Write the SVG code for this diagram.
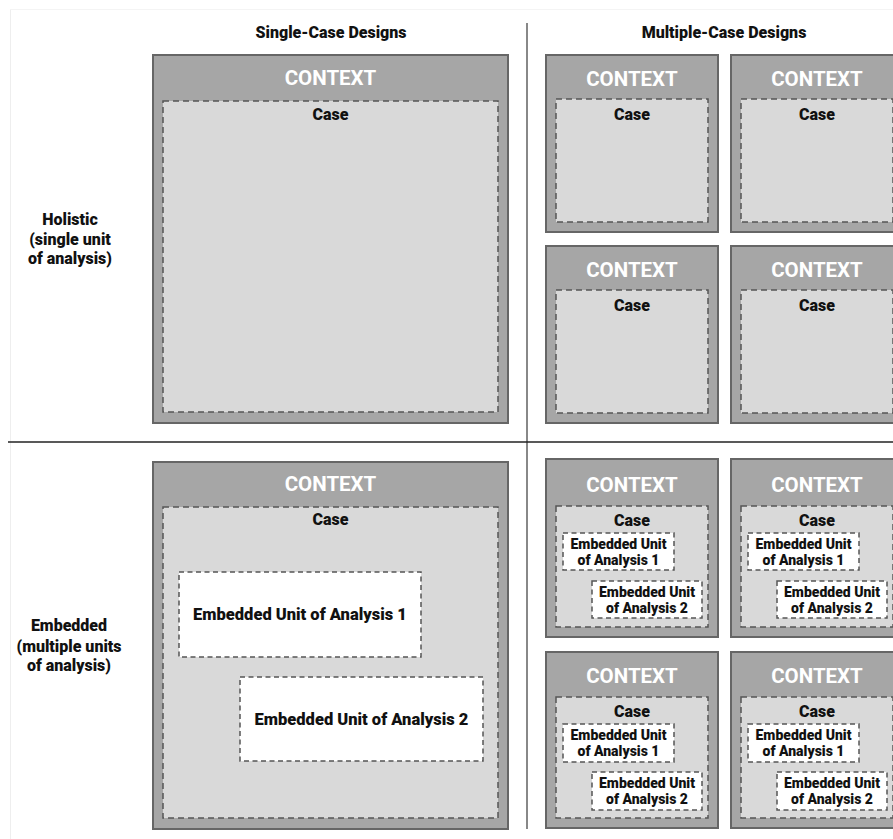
<svg xmlns="http://www.w3.org/2000/svg" width="893" height="839" viewBox="0 0 893 839">
  <style>
    text { font-family: Roboto, "Liberation Sans", Arial, sans-serif; font-weight: 900; text-anchor: middle; }
    .ctx { fill: #a6a6a6; stroke: #666666; stroke-width: 2; }
    .case { fill: #d9d9d9; stroke: #555555; stroke-width: 1.5; stroke-dasharray: 6 4; }
    .unit { fill: #ffffff; stroke: #555555; stroke-width: 1.5; stroke-dasharray: 5 3.5; }
    .ctx-t { fill: #ffffff; font-size: 20.5px; font-weight: bold; }
    .case-t { fill: #111111; font-size: 16px; }
    .hdr { fill: #111111; font-size: 16px; }
    .row { fill: #111111; font-size: 16px; }
    .unit-big { fill: #111111; font-size: 16.5px; }
    .unit-sm { fill: #111111; font-size: 14px; }
  </style>

  <rect width="893" height="839" fill="#ffffff"/>

  <!-- grid lines -->
  <g id="connectors">
    <line x1="10.5" y1="9" x2="10.5" y2="839" stroke="#eeeeee" stroke-width="1"/>
    <line x1="10" y1="9.5" x2="893" y2="9.5" stroke="#f4f4f4" stroke-width="1"/>
    <line x1="527" y1="23" x2="527" y2="829" stroke="#888888" stroke-width="2"/>
    <line x1="8" y1="442" x2="893" y2="442" stroke="#222222" stroke-width="1.5"/>
  </g>

  <!-- headings -->
  <g id="headings">
    <text class="hdr" x="331" y="38">Single-Case Designs</text>
    <text class="hdr" x="724" y="38">Multiple-Case Designs</text>
    <text class="row" x="70" y="225">Holistic</text>
    <text class="row" x="70" y="245">(single unit</text>
    <text class="row" x="70" y="264">of analysis)</text>
    <text class="row" x="69" y="631">Embedded</text>
    <text class="row" x="69" y="652">(multiple units</text>
    <text class="row" x="69" y="671">of analysis)</text>
  </g>

  <!-- single-case holistic -->
  <g id="single-holistic">
    <rect class="ctx" x="153" y="55" width="355" height="368"/>
    <text class="ctx-t" x="330.5" y="85">CONTEXT</text>
    <rect class="case" x="163" y="101" width="335" height="311"/>
    <text class="case-t" x="330.5" y="120">Case</text>
  </g>

  <!-- multiple-case holistic -->
  <g id="multi-holistic-1">
    <rect class="ctx" x="546" y="55" width="172" height="177"/>
    <text class="ctx-t" x="632" y="86">CONTEXT</text>
    <rect class="case" x="556" y="99" width="152" height="123"/>
    <text class="case-t" x="632" y="120">Case</text>
  </g>
  <g id="multi-holistic-2">
    <rect class="ctx" x="731" y="55" width="172" height="177"/>
    <text class="ctx-t" x="817" y="86">CONTEXT</text>
    <rect class="case" x="741" y="99" width="152" height="123"/>
    <text class="case-t" x="817" y="120">Case</text>
  </g>
  <g id="multi-holistic-3">
    <rect class="ctx" x="546" y="246" width="172" height="177"/>
    <text class="ctx-t" x="632" y="277">CONTEXT</text>
    <rect class="case" x="556" y="290" width="152" height="123"/>
    <text class="case-t" x="632" y="311">Case</text>
  </g>
  <g id="multi-holistic-4">
    <rect class="ctx" x="731" y="246" width="172" height="177"/>
    <text class="ctx-t" x="817" y="277">CONTEXT</text>
    <rect class="case" x="741" y="290" width="152" height="123"/>
    <text class="case-t" x="817" y="311">Case</text>
  </g>

  <!-- single-case embedded -->
  <g id="single-embedded">
    <rect class="ctx" x="153" y="462" width="355" height="367"/>
    <text class="ctx-t" x="330.5" y="491">CONTEXT</text>
    <rect class="case" x="163" y="507" width="335" height="311"/>
    <text class="case-t" x="330.5" y="525">Case</text>
    <rect class="unit" x="179" y="572" width="242" height="85"/>
    <text class="unit-big" x="300" y="620">Embedded Unit of Analysis 1</text>
    <rect class="unit" x="240" y="677" width="243" height="84"/>
    <text class="unit-big" x="361.5" y="725">Embedded Unit of Analysis 2</text>
  </g>

  <!-- multiple-case embedded -->
  <g id="multi-embedded-1">
    <rect class="ctx" x="546" y="459" width="172" height="178"/>
    <text class="ctx-t" x="632" y="492">CONTEXT</text>
    <rect class="case" x="556" y="506" width="152" height="121"/>
    <text class="case-t" x="632" y="526">Case</text>
    <rect class="unit" x="563" y="533" width="111" height="37"/>
    <text class="unit-sm" x="618.5" y="549">Embedded Unit</text>
    <text class="unit-sm" x="618.5" y="565">of Analysis 1</text>
    <rect class="unit" x="592" y="581" width="110" height="37"/>
    <text class="unit-sm" x="647" y="597">Embedded Unit</text>
    <text class="unit-sm" x="647" y="613">of Analysis 2</text>
  </g>
  <g id="multi-embedded-2">
    <rect class="ctx" x="731" y="459" width="172" height="178"/>
    <text class="ctx-t" x="817" y="492">CONTEXT</text>
    <rect class="case" x="741" y="506" width="152" height="121"/>
    <text class="case-t" x="817" y="526">Case</text>
    <rect class="unit" x="748" y="533" width="111" height="37"/>
    <text class="unit-sm" x="803.5" y="549">Embedded Unit</text>
    <text class="unit-sm" x="803.5" y="565">of Analysis 1</text>
    <rect class="unit" x="777" y="581" width="110" height="37"/>
    <text class="unit-sm" x="832" y="597">Embedded Unit</text>
    <text class="unit-sm" x="832" y="613">of Analysis 2</text>
  </g>
  <g id="multi-embedded-3">
    <rect class="ctx" x="546" y="652" width="172" height="176"/>
    <text class="ctx-t" x="632" y="683">CONTEXT</text>
    <rect class="case" x="556" y="697" width="152" height="121"/>
    <text class="case-t" x="632" y="717">Case</text>
    <rect class="unit" x="563" y="724" width="111" height="38"/>
    <text class="unit-sm" x="618.5" y="740">Embedded Unit</text>
    <text class="unit-sm" x="618.5" y="756">of Analysis 1</text>
    <rect class="unit" x="592" y="772" width="110" height="38"/>
    <text class="unit-sm" x="647" y="788">Embedded Unit</text>
    <text class="unit-sm" x="647" y="804">of Analysis 2</text>
  </g>
  <g id="multi-embedded-4">
    <rect class="ctx" x="731" y="652" width="172" height="176"/>
    <text class="ctx-t" x="817" y="683">CONTEXT</text>
    <rect class="case" x="741" y="697" width="152" height="121"/>
    <text class="case-t" x="817" y="717">Case</text>
    <rect class="unit" x="748" y="724" width="111" height="38"/>
    <text class="unit-sm" x="803.5" y="740">Embedded Unit</text>
    <text class="unit-sm" x="803.5" y="756">of Analysis 1</text>
    <rect class="unit" x="777" y="772" width="110" height="38"/>
    <text class="unit-sm" x="832" y="788">Embedded Unit</text>
    <text class="unit-sm" x="832" y="804">of Analysis 2</text>
  </g>
</svg>
